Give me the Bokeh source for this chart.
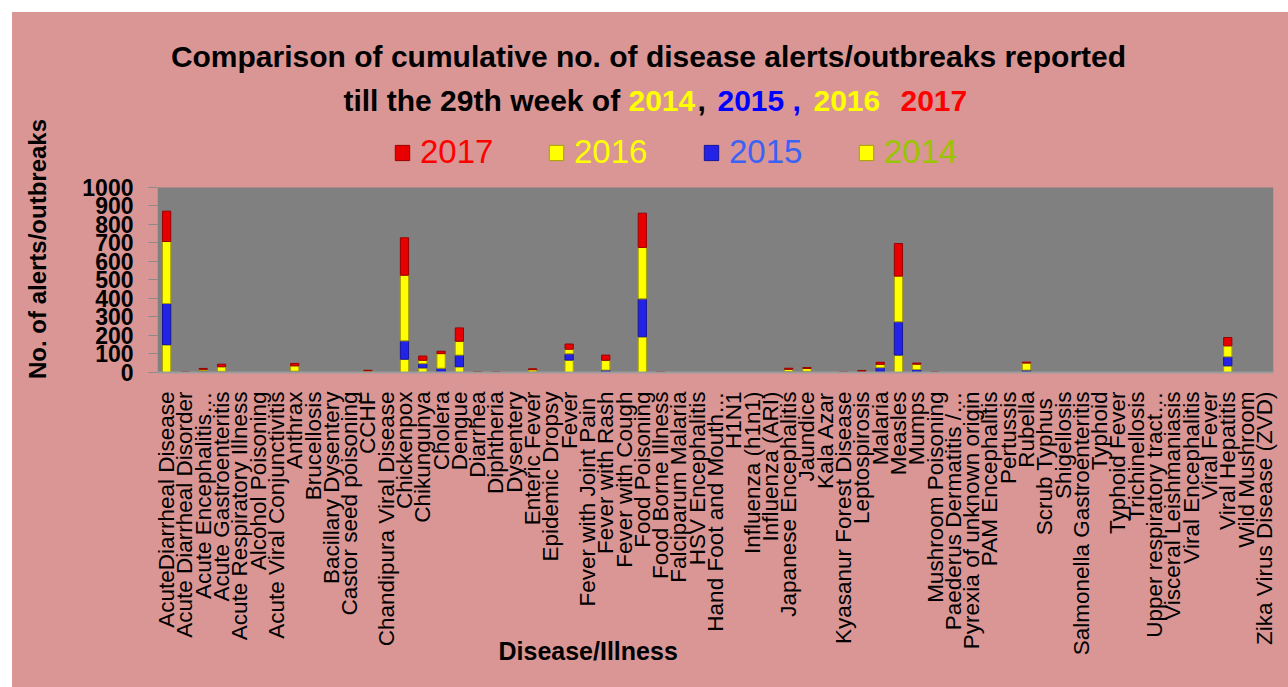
import math
from bokeh.plotting import figure
from bokeh.layouts import column
from bokeh.models import (Range1d, FactorRange, FixedTicker, Label, BoxAnnotation,
                          Legend, LegendItem, ColumnDataSource)
from bokeh.embed import file_html
from bokeh.resources import INLINE

# ---------------- data ----------------
categories = [
    "AcuteDiarrheal Disease", "Acute Diarrheal Disorder", "Acute Encephalitis\u2026",
    "Acute Gastroenteritis", "Acute Respiratory Illness", "Alcohol Poisoning",
    "Acute Viral Conjunctivitis", "Anthrax", "Brucellosis", "Bacillary Dysentery",
    "Castor seed poisoning", "CCHF", "Chandipura Viral Disease", "Chickenpox",
    "Chikungunya", "Cholera", "Dengue", "Diarrhea", "Diphtheria", "Dysentery",
    "Enteric Fever", "Epidemic Dropsy", "Fever", "Fever  with Joint Pain",
    "Fever with Rash", "Fever with Cough", "Food Poisoning", "Food Borne Illness",
    "Falciparum Malaria", "HSV Encephalitis", "Hand Foot and Mouth\u2026", "H1N1",
    "Influenza (h1n1)", "Influenza (ARI)", "Japanese Encephalitis", "Jaundice",
    "Kala Azar", "Kyasanur Forest Disease", "Leptospirosis", "Malaria", "Measles",
    "Mumps", "Mushroom Poisoning", "Paederus Dermatitis /\u2026",
    "Pyrexia of unknown origin", "PAM Encephalitis", "Pertussis", "Rubella",
    "Scrub  Typhus", "Shigellosis", "Salmonella Gastroenteritis", "Typhoid",
    "Typhoid Fever", "Trichinellosis", "Upper respiratory tract\u2026",
    "Visceral Leishmaniasis", "Viral Encephalitis", "Viral Fever",
    "Viral Hepatitis", "Wild Mushroom", "Zika Virus Disease (ZVD)",
]

y2014 = [150, 0, 8, 4, 0, 0, 0, 4, 0, 0, 0, 2, 0, 72, 25, 0, 31, 2, 0, 0,
         3, 0, 67, 0, 0, 0, 193, 0, 0, 0, 0, 0, 0, 0, 5, 6, 0, 0, 2, 3, 94,
         2, 0, 0, 0, 0, 0, 2, 0, 0, 0, 0, 0, 0, 0, 0, 0, 0, 36, 0, 0]
y2015 = [223, 0, 2, 2, 0, 0, 0, 3, 0, 0, 0, 1, 0, 99, 23, 23, 63, 0, 0, 0,
         0, 0, 34, 0, 13, 0, 205, 0, 0, 0, 0, 0, 0, 0, 0, 0, 0, 0, 0, 23, 180,
         14, 0, 0, 0, 0, 0, 11, 0, 0, 0, 0, 0, 0, 0, 0, 0, 0, 49, 0, 0]
y2016 = [335, 0, 7, 25, 0, 0, 0, 29, 0, 0, 0, 5, 0, 355, 18, 79, 75, 0, 0, 0,
         12, 0, 25, 0, 53, 0, 278, 0, 0, 0, 0, 0, 0, 0, 12, 16, 0, 0, 4, 18, 247,
         29, 0, 0, 0, 0, 0, 38, 0, 0, 0, 0, 0, 0, 0, 0, 0, 0, 59, 0, 0]
y2017 = [164, 3, 5, 14, 0, 0, 0, 13, 0, 0, 0, 4, 0, 202, 23, 13, 72, 0, 3, 0,
         5, 0, 28, 0, 28, 0, 185, 3, 0, 0, 0, 0, 0, 0, 6, 5, 0, 3, 5, 11, 176,
         6, 3, 0, 0, 0, 0, 5, 0, 0, 0, 0, 0, 0, 0, 0, 0, 0, 45, 0, 0]

years = ["2014", "2015", "2016", "2017"]
legend_years = ["2017", "2016", "2015", "2014"]
y_ticks = [0, 100, 200, 300, 400, 500, 600, 700, 800, 900, 1000]

# ---------------- styling ----------------
PINK = "#D99694"
GREY = "#808080"
fill_of = {"2014": "#FFFF00", "2015": "#2323E8", "2016": "#FFFF00", "2017": "#E80000"}
line_of = {"2014": "#A8A000", "2015": "#16169A", "2016": "#A8A000", "2017": "#9A0000"}
legend_text_colors = {"2017": "#FF0000", "2016": "#FFFF00", "2015": "#3A62F5", "2014": "#99C400"}
SANS = "Liberation Sans"

source = ColumnDataSource(data=dict(disease=categories, **{"2014": y2014, "2015": y2015,
                                                           "2016": y2016, "2017": y2017}))

# ================= header: title =================
header = figure(width=1276, height=105, output_backend="svg", toolbar_location=None,
                x_axis_location=None, y_axis_location=None, min_border=0,
                x_range=Range1d(0, 1), y_range=Range1d(0, 1))
header.background_fill_color = PINK
header.border_fill_color = PINK
header.outline_line_color = None
header.xgrid.visible = False
header.ygrid.visible = False

def hlab(text, x, y, color="black", size="30px", style="bold", align="left"):
    header.add_layout(Label(x=x, y=y, x_units="screen", y_units="screen", text=text,
                            text_color=color, text_font=SANS, text_font_size=size,
                            text_font_style=style, text_align=align,
                            text_baseline="alphabetic"))

hlab("Comparison of cumulative no. of disease alerts/outbreaks reported", 491, 61, align="center")
hlab("till the 29th week of ", 471, 17, align="right")
hlab("2014", 471, 17, color="#FFFF00")
hlab(",", 540, 17)
hlab("2015 ,", 560, 17, color="#0000FF")
hlab("2016", 656, 17, color="#FFFF00")
hlab("2017", 743, 17, color="#FF0000")

# ================= main chart =================
# the frame reaches up over the legend row; the grey plot area covers 0..1000
p = figure(x_range=FactorRange(*categories), y_range=Range1d(0, 1335),
           width=1276, height=570, output_backend="svg", toolbar_location=None,
           min_border_left=145, min_border_right=15, min_border_top=8,
           min_border_bottom=315)

p.add_layout(BoxAnnotation(bottom=0, top=1000, fill_color=GREY, fill_alpha=1.0,
                           line_color=None, level="underlay"))

renderers = p.vbar_stack(years, x="disease", width=0.45, source=source,
                         fill_color=[fill_of[y] for y in years],
                         line_color=[line_of[y] for y in years], line_width=1)
rend_of = dict(zip(years, renderers))

p.background_fill_color = PINK
p.border_fill_color = PINK
p.outline_line_color = None
p.xgrid.visible = False
p.ygrid.visible = False

# y axis
p.yaxis.ticker = FixedTicker(ticks=y_ticks)
p.yaxis.major_label_text_font = SANS
p.yaxis.major_label_text_font_style = "bold"
p.yaxis.major_label_text_font_size = "23px"
p.yaxis.major_label_text_color = "black"
p.yaxis.axis_line_color = None
p.yaxis.major_tick_line_color = "#8a8a8a"
p.yaxis.major_tick_out = 9
p.yaxis.major_tick_in = 0
p.yaxis.minor_tick_line_color = None
p.yaxis.major_label_standoff = 15
p.yaxis.axis_label = "No. of alerts/outbreaks"
p.yaxis.axis_label_text_font = SANS
p.yaxis.axis_label_text_font_style = "bold"
p.yaxis.axis_label_text_font_size = "24px"
p.yaxis.axis_label_text_color = "black"
p.yaxis.axis_label_standoff = 28

# x axis
p.xaxis.major_label_orientation = math.pi / 2
p.xaxis.major_label_text_font = SANS
p.xaxis.major_label_text_font_size = "22.5px"
p.xaxis.major_label_text_color = "black"
p.xaxis.major_tick_line_color = None
p.xaxis.major_tick_out = 0
p.xaxis.major_tick_in = 0
p.xaxis.axis_line_color = "#9c9c9c"
p.xaxis.axis_line_width = 2
p.xaxis.major_label_standoff = 19

# x axis title, in the panel below the axis, lifted over the label area
p.add_layout(Label(x=341, y=36, x_units="screen", y_units="screen", text="Disease/Illness",
                   text_color="black", text_font=SANS, text_font_size="25px",
                   text_font_style="bold", text_align="left", text_baseline="alphabetic"),
             "below")

# legend: one per item so that each label keeps its own colour
legend_x = {"2017": 236, "2016": 390, "2015": 545, "2014": 700}
for yr in legend_years:
    leg = Legend(items=[LegendItem(label=yr, renderers=[rend_of[yr]])],
                 location=(legend_x[yr], 201),
                 orientation="horizontal", background_fill_alpha=0,
                 border_line_alpha=0, label_text_font=SANS,
                 label_text_font_size="33px", label_text_color=legend_text_colors[yr],
                 glyph_width=18, glyph_height=19, padding=0, margin=0,
                 label_standoff=9, spacing=0)
    p.add_layout(leg)

layout = column(header, p, spacing=0, margin=(12, 0, 0, 12),
                styles={"background-color": PINK})

html = file_html(layout, INLINE, title="Disease alerts/outbreaks")
html = html.replace("<body>", '<body style="background-color:#DBEEF4;">', 1)
open("out.html", "w").write(html)
